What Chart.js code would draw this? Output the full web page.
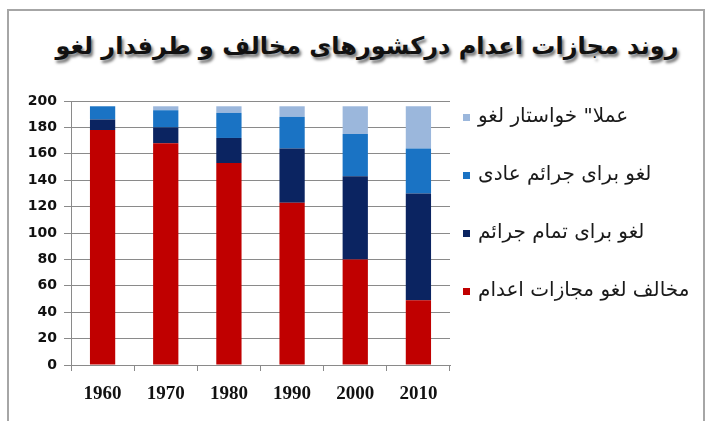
<!DOCTYPE html>
<html>
<head>
<meta charset="utf-8">
<script src="https://cdn.jsdelivr.net/npm/chart.js@4.4.1/dist/chart.umd.min.js"></script>
<style>
  html, body { margin: 0; padding: 0; background: #fff; overflow: hidden; }
  #wrap { position: relative; width: 709px; height: 421px; }
  #frame { position: absolute; left: 7px; top: 9px; width: 698px; height: 420px;
           border: 2px solid #a6a6a6; border-bottom: none; box-sizing: border-box; }
  #title { position: absolute; left: 0; top: 32px; width: 734px; text-align: center;
           font-family: 'DejaVu Sans', sans-serif; font-weight: bold; font-size: 24px;
           color: #111; text-shadow: 2px 3px 3px rgba(0,0,0,0.55); direction: rtl; }
  canvas { position: absolute; left: 0; top: 0; }
</style>
</head>
<body>
<div id="wrap">
  <div id="frame"></div>
  <div id="title">روند مجازات اعدام درکشورهای مخالف و طرفدار لغو</div>
  <canvas id="c" width="709" height="421"></canvas>
</div>
<script>
const categories = ['1960', '1970', '1980', '1990', '2000', '2010'];
const seriesLabels = ['مخالف لغو مجازات اعدام', 'لغو برای تمام جرائم', 'لغو برای جرائم عادی', 'عملا" خواستار لغو'];
const opposeAbolition = [178, 168, 153, 123, 80, 49];
const abolishAll = [8, 12, 19, 41, 63, 81];
const abolishOrdinary = [10, 13, 19, 24, 32, 34];
const abolishedInPractice = [0, 3, 5, 8, 21, 32];
const yTicks = [0, 20, 40, 60, 80, 100, 120, 140, 160, 180, 200];
const colors = ['#C00000', '#0B2461', '#1A73C4', '#9BB7DC'];

const seriesValues = [opposeAbolition, abolishAll, abolishOrdinary, abolishedInPractice];

const legendPlugin = {
  id: 'sideLegend',
  afterDraw(chart) {
    const ctx = chart.ctx;
    const ds = chart.data.datasets;
    ctx.save();
    ctx.font = '20px "DejaVu Sans", sans-serif';
    ctx.textBaseline = 'middle';
    ctx.textAlign = 'left';
    ctx.direction = 'rtl';
    for (let k = 0; k < ds.length; k++) {
      const d = ds[ds.length - 1 - k];
      const y = 117 + k * 58;
      ctx.fillStyle = d.backgroundColor;
      ctx.fillRect(463, y - 3, 7, 7);
      ctx.fillStyle = '#1a1a1a';
      ctx.fillText(d.label, 478, y);
    }
    ctx.restore();
  }
};

new Chart(document.getElementById('c'), {
  type: 'bar',
  data: {
    labels: categories,
    datasets: seriesValues.map((v, i) => ({
      label: seriesLabels[i],
      data: v,
      backgroundColor: colors[i],
      borderWidth: 0,
      barPercentage: 0.8,
      categoryPercentage: 0.5
    }))
  },
  options: {
    responsive: false,
    animation: false,
    devicePixelRatio: 1,
    layout: { padding: { left: 0, right: 259, top: 101, bottom: 0 } },
    plugins: { legend: { display: false }, title: { display: false }, tooltip: { enabled: false } },
    scales: {
      x: {
        stacked: true,
        afterFit(s) { s.height = 56; },
        grid: { offset: true, drawOnChartArea: false, drawTicks: true, tickLength: 6, color: '#8a8a8a' },
        border: { color: '#8a8a8a' },
        ticks: { color: '#111', padding: 12, font: { family: '"Liberation Serif", serif', weight: 'bold', size: 19 } }
      },
      y: {
        stacked: true,
        min: 0, max: 200,
        afterFit(s) { s.width = 71; },
        afterBuildTicks(s) { s.ticks = yTicks.map(v => ({ value: v })); },
        grid: { color: '#8a8a8a', drawTicks: true, tickLength: 7 },
        border: { color: '#8a8a8a' },
        ticks: { color: '#111', padding: 7, font: { family: '"DejaVu Sans", sans-serif', weight: 'bold', size: 14 } }
      }
    }
  },
  plugins: [legendPlugin]
});
</script>
</body>
</html>
